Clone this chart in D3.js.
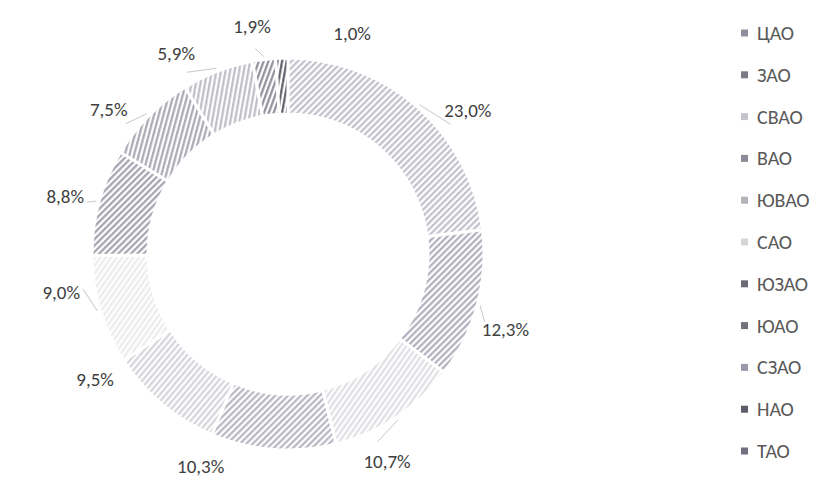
<!DOCTYPE html>
<html>
<head>
<meta charset="utf-8">
<script src="https://cdn.jsdelivr.net/npm/d3@7"></script>
<style>
  body { margin: 0; background: #ffffff; }
  text { font-family: Carlito, Calibri, "Open Sans", sans-serif; }
</style>
</head>
<body>
<div id="chart"></div>
<script>
// data
const districts = ["ЦАО", "ЗАО", "СВАО", "ВАО", "ЮВАО", "САО", "ЮЗАО", "ЮАО", "СЗАО", "НАО", "ТАО"];
const shares = [23.0, 12.3, 10.7, 10.3, 9.5, 9.0, 8.8, 7.5, 5.9, 1.9, 1.0];

// hatch styles, one per district (stripe colour, stripe angle)
const hatchColor = ["#c0c0cc", "#aeaebd", "#e0e0e4", "#b6b6c2", "#d4d4da", "#ececee",
                    "#a2a2b0", "#a8a8b5", "#bdbdc7", "#8e8e9c", "#5e5e6a"];
const hatchAngle = [45, 45, 35, 45, 40, 35, 45, 15, 10, 20, 10];
const legendColor = ["#8f8f9c", "#7a7a88", "#c4c4cc", "#8c8c98", "#b4b4bc", "#d6d6da",
                     "#6c6c78", "#72727e", "#9a9aa6", "#5e5e6a", "#707080"];
// label placement tweak in degrees (label moved around the ring, like Excel best fit)
const labelShift = [10, 4, 8, 18, 17, 7, -1, -6, -8, -2, 18];

let width = 824, height = 479;
let cx = 288, cy = 254, outerR = 196, innerR = 140;

let svg = d3.select("#chart")
    .append("svg")
    .attr("width", width)
    .attr("height", height);

// patterns
let defs = svg.append("defs");
districts.forEach(function (d, i) {
    let p = defs.append("pattern")
        .attr("id", "hatch" + i)
        .attr("patternUnits", "userSpaceOnUse")
        .attr("width", 4.5)
        .attr("height", 4.5)
        .attr("patternTransform", "rotate(" + hatchAngle[i] + ")");
    p.append("rect").attr("width", 4.5).attr("height", 4.5).attr("fill", "#ffffff");
    p.append("line")
        .attr("x1", 1.2).attr("y1", 0)
        .attr("x2", 1.2).attr("y2", 4.5)
        .attr("stroke", hatchColor[i])
        .attr("stroke-width", 2.2);
});

let g = svg.append("g")
    .attr("transform", "translate(" + cx + "," + cy + ")");

let pie = d3.pie()
    .sort(null)
    .value(function (d) { return d; });

let arc = d3.arc()
    .innerRadius(innerR)
    .outerRadius(outerR);

let arcs = pie(shares);

g.selectAll("path.slice")
    .data(arcs)
    .enter()
    .append("path")
    .attr("class", "slice")
    .attr("d", arc)
    .attr("fill", function (d, i) { return "url(#hatch" + i + ")"; })
    .attr("stroke", "#ffffff")
    .attr("stroke-width", 3);

// labels
let labelR = 230;
function midAngle(d) { return (d.startAngle + d.endAngle) / 2; }
function labelAngle(d, i) { return midAngle(d) + labelShift[i] * Math.PI / 180; }

// short leader lines, only where the label stays close to its slice
g.selectAll("polyline.leader")
    .data(arcs.filter(function (d, i) { return Math.abs(labelShift[i]) <= 10; }))
    .enter()
    .append("polyline")
    .attr("class", "leader")
    .attr("fill", "none")
    .attr("stroke", "#c8c8c8")
    .attr("stroke-width", 1)
    .attr("points", function (d) {
        let i = d.index;
        let a = midAngle(d), b = labelAngle(d, i);
        let p1 = [Math.sin(a) * (outerR + 3), -Math.cos(a) * (outerR + 3)];
        let p2 = [Math.sin(b) * (outerR + 12), -Math.cos(b) * (outerR + 12)];
        return [p1, p2];
    });

g.selectAll("text.label")
    .data(arcs)
    .enter()
    .append("text")
    .attr("class", "label")
    .attr("x", function (d, i) { return Math.sin(labelAngle(d, i)) * labelR; })
    .attr("y", function (d, i) { return -Math.cos(labelAngle(d, i)) * labelR; })
    .attr("text-anchor", "middle")
    .attr("dominant-baseline", "central")
    .attr("font-size", 19)
    .attr("fill", "#404040")
    .text(function (d) { return d3.format(".1f")(d.data).replace(".", ",") + "%"; });

// legend
let legendY = d3.scalePoint()
    .domain(districts)
    .range([33, 451]);

let legend = svg.append("g")
    .selectAll("g")
    .data(districts)
    .enter()
    .append("g")
    .attr("transform", function (d) { return "translate(741," + legendY(d) + ")"; });

legend.append("rect")
    .attr("x", 0)
    .attr("y", -3.5)
    .attr("width", 7)
    .attr("height", 7)
    .attr("fill", function (d, i) { return legendColor[i]; });

legend.append("text")
    .attr("x", 16)
    .attr("y", 0)
    .attr("dominant-baseline", "central")
    .attr("font-size", 20)
    .attr("fill", "#595959")
    .text(function (d) { return d; });
</script>
</body>
</html>
